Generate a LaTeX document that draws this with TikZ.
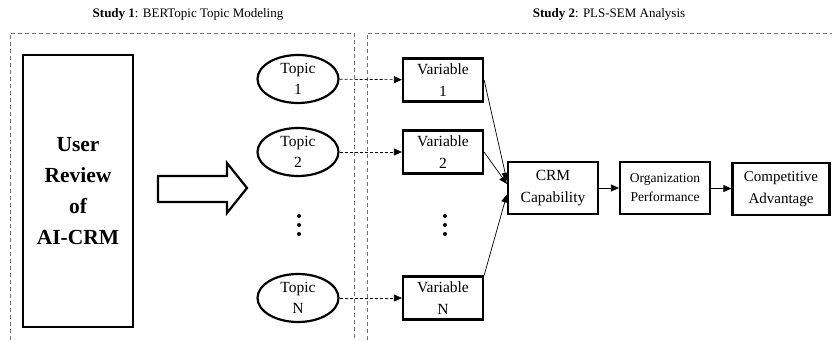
\documentclass[tikz,border=0pt]{standalone}
\usepackage{fontspec}
\setmainfont{Liberation Serif}
\usetikzlibrary{shapes.geometric,arrows.meta}
\tikzset{
  topic/.style={ellipse, draw, line width=2.2pt, minimum width=81pt, minimum height=48pt, inner sep=0pt, align=center, font=\fontsize{15.5}{21}\selectfont},
  varbox/.style={draw, line width=2.2pt, minimum width=80pt, minimum height=43pt, inner sep=0pt, align=center, font=\fontsize{15.5}{22}\selectfont},
  stagebox/.style={draw, line width=2.2pt, minimum height=52pt, inner sep=0pt, align=center},
  frame/.style={black!55, line width=0.7pt, dash pattern=on 4pt off 3pt},
  link/.style={line width=0.7pt, -{Triangle[length=8pt,width=7pt]}},
  dotlink/.style={link, dash pattern=on 3pt off 2pt},
  vdots/.style={circle, fill, inner sep=0pt, minimum size=4pt}
}
\begin{document}
\begin{tikzpicture}[x=1pt, y=-1pt, line join=miter]
  \useasboundingbox (0,0) rectangle (832,340);
  % study frames
  \draw[frame] (10,340) -- (10,33) -- (354,33) -- (354,340);
  \draw[frame] (367,340) -- (367,33) -- (832,33);
  \node[font=\fontsize{13}{15}\selectfont] (s1) at (188,14) {\textbf{Study 1}: BERTopic Topic Modeling};
  \node[font=\fontsize{13}{15}\selectfont] (s2) at (609,14) {\textbf{Study 2}: PLS-SEM Analysis};
  % user review
  \node[draw, line width=2.4pt, minimum width=110pt, minimum height=272pt, inner sep=0pt, align=center,
        font=\fontsize{21.5}{31}\selectfont\bfseries] (review) at (78,191) {User\\Review\\of\\AI-CRM};
  \draw[line width=2.2pt] (158,176) -- (227,176) -- (227,163) -- (247,188) -- (227,213) -- (227,202) -- (158,202) -- cycle;
  % topics and variables
  \node[topic] (t1) at (298,79) {Topic\\1};
  \node[topic] (t2) at (298,152) {Topic\\2};
  \node[topic] (tn) at (298,298) {Topic\\N};
  \node[varbox] (v1) at (443,80) {Variable\\1};
  \node[varbox] (v2) at (443,152) {Variable\\2};
  \node[varbox] (vn) at (443,298) {Variable\\N};
  \foreach \x/\nm in {299/td, 445/vd} {
    \node[vdots] (\nm1) at (\x,216) {};
    \node[vdots] (\nm2) at (\x,225) {};
    \node[vdots] (\nm3) at (\x,234) {};
  }
  \draw[dotlink] (t1) -- (v1);
  \draw[dotlink] (t2) -- (v2);
  \draw[dotlink] (tn) -- (vn);
  % PLS-SEM path
  \node[stagebox, minimum width=90pt, font=\fontsize{15.5}{22}\selectfont] (crm) at (553,188) {CRM\\Capability};
  \node[stagebox, minimum width=90pt, font=\fontsize{13.5}{19}\selectfont] (org) at (665,188) {Organization\\Performance};
  \node[stagebox, minimum width=97pt, font=\fontsize{15}{22}\selectfont] (comp) at (781,189) {Competitive\\Advantage};
  \draw[link] (v1.east) -- (crm.171);
  \draw[link] (v2.east) -- (crm.175);
  \draw[link] (vn.north east) -- (crm.188);
  \draw[link] (crm) -- (org);
  \draw[link] (org) -- (comp);
\end{tikzpicture}
\end{document}
